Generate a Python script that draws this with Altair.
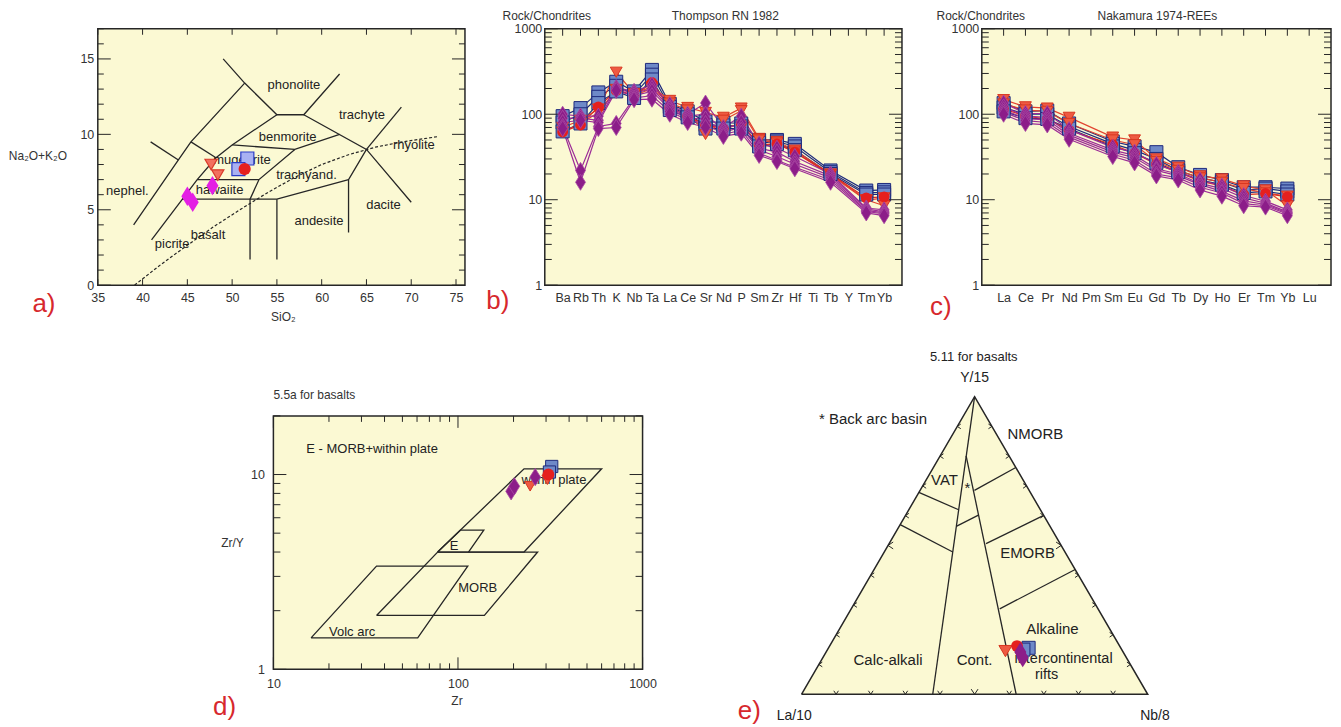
import altair as alt
import pandas as pd

FONT = "Liberation Sans"
BG = "#FBF9D3"
INK = "#262626"
LBL = "#333333"
TAG = "#D7282D"

DIAMOND = "M0,-1L0.62,0L0,1L-0.62,0Z"

# ---------------- a) TAS (SiO2 vs Na2O+K2O) ----------------
tas_lines = [
    [(49.0, 15.0), (51.4, 13.4), (55.0, 11.3), (58.0, 11.3), (62.0, 14.0)],
    [(39.0, 4.0), (44.0, 8.3), (45.4, 9.5), (51.4, 13.4)],
    [(40.9, 9.5), (44.0, 8.3)],
    [(45.4, 9.5), (48.2, 8.45)],
    [(41.0, 3.0), (46.1, 7.0), (48.2, 8.45), (50.0, 9.3), (55.0, 11.3)],
    [(58.0, 11.3), (65.0, 9.0), (70.0, 5.5)],
    [(65.0, 9.0), (68.9, 11.8)],
    [(65.0, 9.0), (63.0, 7.0), (63.0, 3.5)],
    [(50.0, 9.3), (57.0, 9.0), (62.0, 10.0)],
    [(57.0, 9.0), (53.0, 7.0), (52.0, 5.7), (52.0, 1.7)],
    [(46.1, 7.0), (53.0, 7.0)],
    [(44.4, 5.7), (55.0, 5.7), (63.0, 7.0)],
    [(55.0, 5.7), (55.0, 1.7)],
]
tas_dashed = [(39.1, 0.0), (42.0, 1.35), (45.0, 2.65), (48.0, 3.9), (51.0, 5.05), (54.0, 6.15),
              (57.0, 7.15), (60.0, 8.0), (63.0, 8.65), (66.0, 9.15), (69.0, 9.5), (73.0, 9.85)]
tas_names = ["phonolite", "trachyte", "benmorite", "rhyolite", "mugearite", "trachyand.",
             "nephel.", "hawaiite", "dacite", "andesite", "basalt", "picrite"]
tas_name_x = [56.9, 64.5, 56.2, 70.3, 51.1, 58.3, 38.3, 48.6, 66.9, 59.7, 47.3, 43.3]
tas_name_y = [13.3, 11.26, 9.8, 9.3, 8.3, 7.3, 6.25, 6.3, 5.3, 4.26, 3.3, 2.75]

a_sq_x, a_sq_y = [51.7, 50.7], [8.4, 7.7]
a_tri_x, a_tri_y = [47.65, 48.4], [8.0, 7.3]
a_cir_x, a_cir_y = [51.4], [7.7]
a_dia_x, a_dia_y = [45.0, 45.6, 47.8], [5.9, 5.5, 6.6]

a_x_ticks = [35, 40, 45, 50, 55, 60, 65, 70, 75]
a_y_major = [0, 5, 10, 15]
a_y_minor = [1, 2, 3, 4, 6, 7, 8, 9, 11, 12, 13, 14, 16, 17]

# ---------------- b) Thompson spider ----------------
b_elements = ["Ba", "Rb", "Th", "K", "Nb", "Ta", "La", "Ce", "Sr", "Nd", "P", "Sm", "Zr", "Hf",
              "Ti", "Tb", "Y", "Tm", "Yb"]
N = None
b_series = [
    ("s1", "sq", [95, 118, 180, 240, 185, 330, 132, 108, 82, 80, 78, 50, 50, 45, N, 22, N, 12.8, 13]),
    ("s2", "sq", [80, 100, 160, 215, 170, 290, 122, 100, 75, 74, 72, 46, 48, 42, N, 21, N, 12, 12.2]),
    ("s3", "sq", [63, 78, 135, 185, 155, 255, 112, 92, 68, 68, 68, 42, 45, 38, N, 20, N, 11.5, 11.5]),
    ("t1", "tri", [70, 85, 115, 310, 175, 210, 145, 120, 105, 92, 118, 52, 48, 38, N, 20, N, 10, 8.5]),
    ("t2", "tri", [62, 78, 105, 195, 165, 200, 135, 112, 58, 85, 110, 50, 46, 36, N, 19.5, N, 9.8, 10.5]),
    ("c1", "cir", [62, 75, 122, 190, 165, 235, 120, 95, 75, 68, 78, 44, 45, 36, N, 20, N, 10.5, 10.8]),
    ("d1", "dia", [100, 95, 95, 205, 185, 220, 130, 100, 135, 70, 95, 45, 40, 32, N, 20, N, 8.0, 7.6]),
    ("d2", "dia", [90, 90, 85, 200, 175, 200, 120, 95, 100, 65, 80, 40, 36, 28, N, 19, N, 7.8, 7.2]),
    ("d3", "dia", [80, 85, 80, 190, 165, 185, 115, 90, 88, 62, 70, 38, 32, 26, N, 18, N, 7.5, 7.0]),
    ("d4", "dia", [72, 22, 72, 78, 155, 165, 108, 85, 78, 58, 65, 35, 29, 24, N, 17, N, 7.3, 6.8]),
    ("d5", "dia", [68, 16, 68, 70, 148, 150, 100, 80, 70, 55, 60, 33, 28, 23, N, 16, N, 7.0, 6.5]),
]

# ---------------- c) Nakamura REE ----------------
c_elements = ["La", "Ce", "Pr", "Nd", "Pm", "Sm", "Eu", "Gd", "Tb", "Dy", "Ho", "Er", "Tm", "Yb", "Lu"]
c_series = [
    ("s1", "sq", [135, 108, 110, 78, N, 48, 42, 36, 24, 19.5, 17, 14, 14, 13.5, N]),
    ("s2", "sq", [120, 100, 100, 72, N, 45, 38, 30, 22, 18, 16, 13, 13.5, 12.5, N]),
    ("s3", "sq", [108, 90, 88, 68, N, 42, 35, 27, 21, 17, 15, 12, 12.5, 11.5, N]),
    ("t1", "tri", [148, 122, 118, 92, N, 54, 50, 30, 24, 19, 17.5, 14.5, 13, 8.5, N]),
    ("t2", "tri", [132, 112, 108, 78, N, 50, 44, 28, 22, 18, 16, 13.5, 12, 11, N]),
    ("c1", "cir", [115, 95, 88, 65, N, 44, 35, 26, 21, 16.5, 14.5, 11.5, 11.8, 10.8, N]),
    ("d1", "dia", [135, 102, 102, 66, N, 41, 36, 26, 21, 17, 14.5, 11.2, 9.6, 7.6, N]),
    ("d2", "dia", [122, 95, 92, 60, N, 38, 33, 23, 20, 15.5, 13.5, 10.5, 9.1, 7.2, N]),
    ("d3", "dia", [113, 89, 86, 57, N, 36, 31, 22, 19, 15, 12.5, 9.7, 8.8, 7.0, N]),
    ("d4", "dia", [106, 84, 80, 54, N, 34, 29, 20, 18, 14, 12, 9.0, 8.5, 6.8, N]),
    ("d5", "dia", [100, 78, 75, 51, N, 32, 27, 19, 17, 13, 11, 8.5, 8.2, 6.5, N]),
]
log_major = [1, 10, 100, 1000]
log_minor = [2, 3, 4, 5, 6, 7, 8, 9, 20, 30, 40, 50, 60, 70, 80, 90,
             200, 300, 400, 500, 600, 700, 800, 900]

# ---------------- d) Zr vs Zr/Y ----------------
d_fields = {
    "wp": [(77.6, 4.0), (228, 10.7), (600, 10.7), (228, 4.0), (77.6, 4.0)],
    "morb": [(36.2, 1.89), (139, 1.89), (270, 4.0), (77.6, 4.0), (36.2, 1.89)],
    "e": [(77.6, 4.0), (103, 5.18), (138, 5.18), (114, 4.0)],
    "arc": [(16.0, 1.45), (60.5, 1.45), (113, 3.39), (36.2, 3.39), (16.0, 1.45)],
}
d_names = ["within plate", "E", "MORB", "Volc arc"]
d_name_x = [331, 95.3, 128, 26.7]
d_name_y = [9.4, 4.32, 2.62, 1.56]
d_dia_x, d_dia_y = [194, 202, 262], [8.2, 8.7, 9.7]
d_tri_x, d_tri_y = [246, 305], [8.7, 9.4]
d_sq_x, d_sq_y = [322, 313], [11.0, 10.3]
d_cir_x, d_cir_y = [309], [10.0]
d_x_major = [10, 100, 1000]
d_x_minor = [20, 30, 40, 50, 60, 70, 80, 90, 200, 300, 400, 500, 600, 700, 800, 900]
d_y_major = [1, 10]
d_y_minor = [2, 3, 4, 5, 6, 7, 8, 9, 20]

# ---------------- e) La/10 - Y/15 - Nb/8 ternary (Y, Nb fractions) ----------------
e_lines = [
    [(1.0, 0.0), (0.0, 0.379)],
    [(0.801, 0.075), (0.0, 0.62)],
    [(0.678, 0.0), (0.62, 0.144)],
    [(0.57, 0.0), (0.478, 0.198)],
    [(0.564, 0.165), (0.602, 0.21)],
    [(0.685, 0.157), (0.762, 0.238)],
    [(0.506, 0.28), (0.601, 0.399)],
    [(0.287, 0.429), (0.419, 0.581)],
]
e_outline = [(0.0, 0.0), (1.0, 0.0), (0.0, 1.0), (0.0, 0.0)]
e_corner_names = ["Y/15", "La/10", "Nb/8"]
e_corner_Y = [1.063, -0.074, -0.074]
e_corner_Nb = [-0.0315, 0.016, 1.058]
e_names = ["NMORB", "VAT", "EMORB", "Alkaline", "Calc-alkali", "Cont.", "*"]
e_name_Y = [0.875, 0.721, 0.473, 0.218, 0.115, 0.115, 0.693]
e_name_Nb = [0.238, 0.0525, 0.4165, 0.616, 0.1925, 0.4425, 0.1325]
e_rift_names = ["intercontinental", "rifts"]
e_rift_Y = [0.117, 0.064]
e_rift_Nb = [0.6985, 0.676]
e_tick_t = [0.1, 0.2, 0.3, 0.4, 0.5, 0.6, 0.7, 0.8, 0.9]
e_tri_Y, e_tri_Nb = [0.145], [0.5165]
e_cir_Y, e_cir_Nb = [0.162], [0.5415]
e_sq_Y, e_sq_Nb = [0.156, 0.150], [0.578, 0.566]
e_dia_Y, e_dia_Nb = [0.142, 0.123], [0.561, 0.5775]


# ======================= helpers =======================
def poly_df(polys):
    rows = []
    for k, pl in enumerate(polys):
        for i, (x, y) in enumerate(pl):
            rows.append({"seg": k, "i": i, "x": x, "y": y})
    return pd.DataFrame(rows)


def label_axis(orient, pad, values, fmt=None, fs=12):
    kw = dict(orient=orient, values=values, ticks=False, domain=False, grid=False, title=None,
              labelPadding=pad, labelFont=FONT, labelFontSize=fs, labelColor=LBL, labelAngle=0,
              labelFlush=False, labelOverlap=False)
    if fmt:
        kw["format"] = fmt
    return alt.Axis(**kw)


def tick_rules(enc, name, values, side, length, W, H):
    df = pd.DataFrame({name: values})
    if side in ("left", "right"):
        x0, x1 = (0, length) if side == "left" else (W, W - length)
        e = dict(y=enc, x=alt.value(x0), x2=alt.value(x1))
    else:
        y0, y1 = (H, H - length) if side == "bottom" else (0, length)
        e = dict(x=enc, y=alt.value(y0), y2=alt.value(y1))
    return alt.Chart(df).mark_rule(color=INK, strokeWidth=1).encode(**e)


def ptext(text, x, y, size=12, color=LBL, align="center", baseline="middle"):
    return alt.Chart(pd.DataFrame({"t": [text]})).mark_text(
        font=FONT, fontSize=size, color=color, align=align, baseline=baseline
    ).encode(text="t:N", x=alt.value(x), y=alt.value(y))


def markers(df, X, Y, shape, size, fill, stroke, sw=1.0):
    return alt.Chart(df).mark_point(shape=shape, size=size, filled=True, fill=fill,
                                    stroke=stroke, strokeWidth=sw, opacity=1).encode(x=X, y=Y)


# ======================= panel a =======================
AW, AH = 368, 257
ax_s = alt.Scale(domain=[35, 76], nice=False, zero=False)
ay_s = alt.Scale(domain=[0, 17], nice=False, zero=False)
AX = alt.X("x:Q", scale=ax_s, axis=label_axis("bottom", 6, a_x_ticks, fs=12.5))
AY = alt.Y("y:Q", scale=ay_s, axis=label_axis("left", 4, a_y_major, fs=12.5))

a_layers = [
    alt.Chart(poly_df(tas_lines)).mark_line(color=INK, strokeWidth=1.3).encode(
        x=AX, y=AY, detail="seg:N", order="i:Q"),
    alt.Chart(poly_df([tas_dashed])).mark_line(color=INK, strokeWidth=1.2, strokeDash=[3, 2]).encode(
        x=AX, y=AY, order="i:Q"),
    alt.Chart(pd.DataFrame({"x": tas_name_x, "y": tas_name_y, "t": tas_names})).mark_text(
        font=FONT, fontSize=13, color="#222222").encode(x=AX, y=AY, text="t:N"),
    markers(pd.DataFrame({"x": a_sq_x, "y": a_sq_y}), AX, AY, "square", 170, "#A9B1F2", "#2A3CC8", 1.2),
    markers(pd.DataFrame({"x": a_tri_x, "y": a_tri_y}), AX, AY, "triangle-down", 150, "#F2705F", "#D93A2A", 1.2),
    markers(pd.DataFrame({"x": a_cir_x, "y": a_cir_y}), AX, AY, "circle", 150, "#E5201E", "#E5201E", 0),
    markers(pd.DataFrame({"x": a_dia_x, "y": a_dia_y}), AX, AY, DIAMOND, 380, "#E41FE4", "#E41FE4", 0),
    tick_rules(AX, "x", a_x_ticks, "bottom", 6, AW, AH),
    tick_rules(AX, "x", a_x_ticks, "top", 6, AW, AH),
    tick_rules(AY, "y", a_y_major, "left", 13, AW, AH),
    tick_rules(AY, "y", a_y_minor, "left", 6, AW, AH),
    tick_rules(AY, "y", a_y_major, "right", 13, AW, AH),
    tick_rules(AY, "y", a_y_minor, "right", 6, AW, AH),
    ptext("Na\u2082O+K\u2082O", -60, 128),
    ptext("SiO\u2082", 186, 289),
    ptext("a)", -54, 276, size=26, color=TAG),
]
panel_a = alt.layer(*a_layers).properties(width=AW, height=AH)


# ======================= spider panels =======================
KINDS = ["sq", "tri", "cir", "dia"]
LINE_COLORS = ["#1E2A7C", "#E2442F", "#DA2A22", "#9C2C96"]


def spider_df(elements, series):
    rows = []
    for name, kind, vals in series:
        for i, (el, v) in enumerate(zip(elements, vals)):
            if v is not None:
                rows.append({"ser": name, "kind": kind, "el": el, "idx": i, "val": v})
    return pd.DataFrame(rows)


def spider_panel(elements, series, w, h, t_left, t_left_x, t_center, t_center_x, tag, tag_x, tag_y):
    xs = alt.Scale(type="point", domain=elements, padding=1)
    ys = alt.Scale(type="log", domain=[1, 1000], nice=False)
    X = alt.X("el:N", scale=xs, axis=label_axis("bottom", 6, elements, fs=12.5))
    Y = alt.Y("val:Q", scale=ys, axis=label_axis("left", 3, log_major, fmt="d", fs=12.5))
    df = spider_df(elements, series)
    layers = [
        alt.Chart(df).mark_line(strokeWidth=1.2).encode(
            x=X, y=Y, detail="ser:N", order="idx:Q",
            color=alt.Color("kind:N", scale=alt.Scale(domain=KINDS, range=LINE_COLORS), legend=None)),
        markers(df[df.kind == "sq"], X, Y, "square", 170, "#6E89C8", "#1E2A7C", 1.0),
        markers(df[df.kind == "tri"], X, Y, "triangle-down", 140, "#EE5A42", "#D8361F", 1.0),
        markers(df[df.kind == "cir"], X, Y, "circle", 120, "#E5201E", "#E5201E", 0),
        markers(df[df.kind == "dia"], X, Y, DIAMOND, 260, "#8C1D89", "#A94AA3", 0.8),
        tick_rules(X, "el", elements, "top", 7, w, h),
        tick_rules(Y, "val", log_major, "left", 13, w, h),
        tick_rules(Y, "val", log_minor, "left", 7, w, h),
        tick_rules(Y, "val", log_major, "right", 13, w, h),
        tick_rules(Y, "val", log_minor, "right", 7, w, h),
        ptext(t_left, t_left_x, -13),
        ptext(t_center, t_center_x, -13),
        ptext(tag, tag_x, tag_y, size=26, color=TAG),
    ]
    return alt.layer(*layers).properties(width=w, height=h)


panel_b = spider_panel(b_elements, b_series, 358, 257, "Rock/Chondrites", 2,
                       "Thompson RN 1982", 181, "b)", -47, 273)
panel_c = spider_panel(c_elements, c_series, 350, 257, "Rock/Chondrites", -1,
                       "Nakamura 1974-REEs", 176, "c)", -41, 279)

# ======================= panel d =======================
DW, DH = 370, 254
dx_s = alt.Scale(type="log", domain=[10, 1000], nice=False)
dy_s = alt.Scale(type="log", domain=[1, 20], nice=False)
DX = alt.X("x:Q", scale=dx_s, axis=label_axis("bottom", 8, d_x_major, fmt="d", fs=12.5))
DY = alt.Y("y:Q", scale=dy_s, axis=label_axis("left", 9, d_y_major, fmt="d", fs=12.5))

d_layers = [
    alt.Chart(poly_df(list(d_fields.values()))).mark_line(color=INK, strokeWidth=1.3).encode(
        x=DX, y=DY, detail="seg:N", order="i:Q"),
    alt.Chart(pd.DataFrame({"x": d_name_x, "y": d_name_y, "t": d_names})).mark_text(
        font=FONT, fontSize=13, color="#222222").encode(x=DX, y=DY, text="t:N"),
    markers(pd.DataFrame({"x": d_sq_x, "y": d_sq_y}), DX, DY, "square", 150, "#6E89C8", "#1E2A7C", 1.0),
    markers(pd.DataFrame({"x": d_tri_x, "y": d_tri_y}), DX, DY, "triangle-down", 120, "#EE5A42", "#D8361F", 1.0),
    markers(pd.DataFrame({"x": d_dia_x, "y": d_dia_y}), DX, DY, DIAMOND, 300, "#8C1D89", "#A94AA3", 0.8),
    markers(pd.DataFrame({"x": d_cir_x, "y": d_cir_y}), DX, DY, "circle", 140, "#E5201E", "#E5201E", 0),
    tick_rules(DX, "x", d_x_major, "bottom", 12, DW, DH),
    tick_rules(DX, "x", d_x_minor, "bottom", 6, DW, DH),
    tick_rules(DX, "x", d_x_major, "top", 12, DW, DH),
    tick_rules(DX, "x", d_x_minor, "top", 6, DW, DH),
    tick_rules(DY, "y", d_y_major, "left", 13, DW, DH),
    tick_rules(DY, "y", d_y_minor, "left", 7, DW, DH),
    tick_rules(DY, "y", d_y_major, "right", 13, DW, DH),
    tick_rules(DY, "y", d_y_minor, "right", 7, DW, DH),
    ptext("5.5a for basalts", 0, -21, align="left"),
    ptext("E - MORB+within plate", 33, 33, size=13, color="#222222", align="left"),
    ptext("Zr/Y", -41, 127),
    ptext("Zr", 184, 286),
    ptext("d)", -49, 292, size=26, color=TAG),
]
panel_d = alt.layer(*d_layers).properties(width=DW, height=DH)

# ======================= panel e =======================
EW, EH = 500, 290
ex_s = alt.Scale(domain=[-0.2948, 1.1461], nice=False, zero=False)
ey_s = alt.Scale(domain=[-0.0369, 0.9353], nice=False, zero=False)
EX = alt.X("u:Q", scale=ex_s, axis=None)
EY = alt.Y("v:Q", scale=ey_s, axis=None)
TERN = dict(u="datum.Nb + datum.Y / 2", v="datum.Y")


def tern_df(Ys, Nbs, **extra):
    d = {"Y": Ys, "Nb": Nbs}
    d.update(extra)
    return pd.DataFrame(d)


def tern_lines(polys):
    rows = []
    for k, pl in enumerate(polys):
        for i, (yv, nb) in enumerate(pl):
            rows.append({"seg": k, "i": i, "Y": yv, "Nb": nb})
    return pd.DataFrame(rows)


def chevrons(Ys, Nbs, path):
    df = tern_df(Ys, Nbs, big=["y" if t == 0.5 else "n" for t in e_tick_t])
    return alt.Chart(df).transform_calculate(**TERN).mark_point(
        shape=path, filled=False, stroke=INK, strokeWidth=1, opacity=1).encode(
        x=EX, y=EY, size=alt.Size("big:N", scale=alt.Scale(domain=["n", "y"], range=[60, 130]), legend=None))


def tern_text(Ys, Nbs, texts, size, align="center"):
    return alt.Chart(tern_df(Ys, Nbs, t=texts)).transform_calculate(**TERN).mark_text(
        font=FONT, fontSize=size, color="#222222", align=align).encode(x=EX, y=EY, text="t:N")


e_layers = [
    alt.Chart(tern_df([0.0, 1.0, 0.0], [0.0, 0.0, 1.0])).transform_calculate(v0="0", **TERN).mark_area(
        color=BG, opacity=1).encode(x=EX, y=EY, y2="v0:Q"),
    alt.Chart(tern_lines(e_lines)).transform_calculate(**TERN).mark_line(color=INK, strokeWidth=1.3).encode(
        x=EX, y=EY, detail="seg:N", order="i:Q"),
    alt.Chart(tern_lines([e_outline])).transform_calculate(**TERN).mark_line(color=INK, strokeWidth=1.5).encode(
        x=EX, y=EY, order="i:Q"),
    chevrons(e_tick_t, [0.0] * 9, "M0.9,-0.6L0,0L0.9,0.6"),
    chevrons(e_tick_t, [1 - t for t in e_tick_t], "M-0.9,-0.6L0,0L-0.9,0.6"),
    chevrons([0.0] * 9, e_tick_t, "M-0.6,-0.9L0,0L0.6,-0.9"),
    tern_text(e_corner_Y, e_corner_Nb, e_corner_names, 14),
    tern_text(e_name_Y, e_name_Nb, e_names, 15),
    tern_text(e_rift_Y, e_rift_Nb, e_rift_names, 14.5),
    tern_text([1.133], [-0.069], ["5.11 for basalts"], 13),
    tern_text([0.925], [-0.412], ["* Back arc basin"], 15, align="left"),
    alt.Chart(tern_df(e_sq_Y, e_sq_Nb)).transform_calculate(**TERN).mark_point(
        shape="square", size=170, filled=True, fill="#6E89C8", stroke="#1E2A7C", strokeWidth=1, opacity=1).encode(x=EX, y=EY),
    alt.Chart(tern_df(e_tri_Y, e_tri_Nb)).transform_calculate(**TERN).mark_point(
        shape="triangle-down", size=170, filled=True, fill="#EE5A42", stroke="#D8361F", strokeWidth=1, opacity=1).encode(x=EX, y=EY),
    alt.Chart(tern_df(e_cir_Y, e_cir_Nb)).transform_calculate(**TERN).mark_point(
        shape="circle", size=140, filled=True, fill="#E5201E", strokeWidth=0, opacity=1).encode(x=EX, y=EY),
    alt.Chart(tern_df(e_dia_Y, e_dia_Nb)).transform_calculate(**TERN).mark_point(
        shape=DIAMOND, size=380, filled=True, fill="#8C1D89", strokeWidth=0, opacity=1).encode(x=EX, y=EY),
    ptext("e)", 50, 296, size=26, color=TAG),
]
NOVIEW = alt.ViewBackground(fill="transparent", stroke="transparent")
panel_e = alt.layer(*e_layers).properties(width=EW, height=EH, view=NOVIEW)

spacer = alt.Chart(pd.DataFrame({"z": [0]})).mark_point(opacity=0).properties(
    width=119, height=20, view=NOVIEW)

top_row = alt.hconcat(panel_a, panel_b, panel_c, spacing=80, bounds="flush")
bottom_row = alt.hconcat(spacer, panel_d, panel_e, spacing=57, bounds="flush")

chart = alt.vconcat(top_row, bottom_row, spacing=26).properties(
    padding={"left": 0, "top": 0, "right": 0, "bottom": 0}
).configure(font=FONT).configure_view(fill=BG, stroke=INK, strokeWidth=1.5)

chart.save("out.html", embed_options={"renderer": "svg", "actions": False})
